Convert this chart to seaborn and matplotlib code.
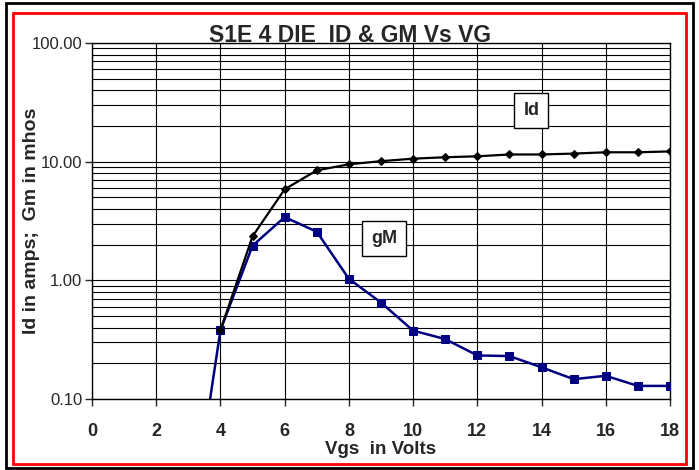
import numpy as np
import pandas as pd
import matplotlib
matplotlib.use("Agg")
import matplotlib.pyplot as plt
import seaborn as sns
from matplotlib.patches import Rectangle
from matplotlib.ticker import FixedLocator, LogLocator, NullFormatter

sns.set_style("white")
plt.rcParams['font.family'] = ['Liberation Sans', 'DejaVu Sans']

vgs_id = [4, 5, 6, 7, 8, 9, 10, 11, 12, 13, 14, 15, 16, 17, 18]
id_amps = [0.38, 2.35, 5.85, 8.45, 9.5, 10.1, 10.6, 10.9, 11.1, 11.5, 11.5, 11.7, 12.0, 12.0, 12.2]

vgs_gm = [3, 4, 5, 6, 7, 8, 9, 10, 11, 12, 13, 14, 15, 16, 17, 18]
gm_mhos = [0.006, 0.38, 1.96, 3.41, 2.57, 1.03, 0.65, 0.377, 0.32, 0.233, 0.23, 0.185, 0.147, 0.157, 0.129, 0.129]

x_ticks = [0, 2, 4, 6, 8, 10, 12, 14, 16, 18]
y_ticks = [0.1, 1, 10, 100]
y_labels = ["0.10", "1.00", "10.00", "100.00"]

df_id = pd.DataFrame({"Vgs": vgs_id, "val": id_amps})
df_gm = pd.DataFrame({"Vgs": vgs_gm, "val": gm_mhos})

fig = plt.figure(figsize=(6.99, 4.70), dpi=100)
ax = fig.add_axes([0.1316, 0.151, 0.8269, 0.7575])

sns.lineplot(data=df_id, x="Vgs", y="val", ax=ax, color="black", lw=1.6,
             marker="D", markersize=4.5, markeredgecolor="black", zorder=4)
sns.lineplot(data=df_gm, x="Vgs", y="val", ax=ax, color="#000080", lw=1.8,
             marker="s", markersize=6, markeredgecolor="#000080", zorder=3)

ax.set_yscale("log")
ax.set_xlim(0, 18)
ax.set_ylim(0.1, 100)

ax.xaxis.set_major_locator(FixedLocator(x_ticks))
ax.set_xticklabels([str(t) for t in x_ticks], fontweight="bold", fontsize=13)
ax.yaxis.set_major_locator(FixedLocator(y_ticks))
ax.set_yticklabels(y_labels, fontsize=12)
ax.yaxis.set_minor_locator(LogLocator(base=10, subs=np.arange(2, 10)))
ax.yaxis.set_minor_formatter(NullFormatter())

ax.grid(True, which="major", axis="both", color="black", lw=0.8)
ax.grid(True, which="minor", axis="y", color="black", lw=0.8)
ax.tick_params(axis="both", which="major", direction="out", length=5, width=1, left=True, bottom=True)
ax.tick_params(axis="x", pad=12)
ax.tick_params(axis="y", pad=2)
ax.tick_params(axis="y", which="minor", length=0)
for s in ax.spines.values():
    s.set_color("black")
    s.set_linewidth(1)

ax.set_xlabel("Vgs  in Volts", fontweight="bold", fontsize=13.5, labelpad=1)
ax.set_ylabel("Id in amps;  Gm in mhos", fontweight="bold", fontsize=14, labelpad=-6)

fig.text(0.5007, 0.925, "S1E 4 DIE  ID & GM Vs VG", ha="center", va="center",
         fontweight="bold", fontsize=16.5)

box = dict(boxstyle="square,pad=0.5", fc="white", ec="black", lw=1)
ax.text(13.68, 27, "Id", ha="center", va="center", fontweight="bold", fontsize=13, bbox=box, zorder=6)
ax.text(9.1, 2.26, "gM", ha="center", va="center", fontweight="bold", fontsize=13, bbox=box, zorder=6)

fig.patches.append(Rectangle((6 / 699, 2 / 470), 687 / 699, 465 / 470, transform=fig.transFigure,
                             fill=False, ec="black", lw=2))
fig.patches.append(Rectangle((13 / 699, 6 / 470), 673 / 699, 451 / 470, transform=fig.transFigure,
                             fill=False, ec="red", lw=2))

fig.savefig("out.png", dpi=100)
